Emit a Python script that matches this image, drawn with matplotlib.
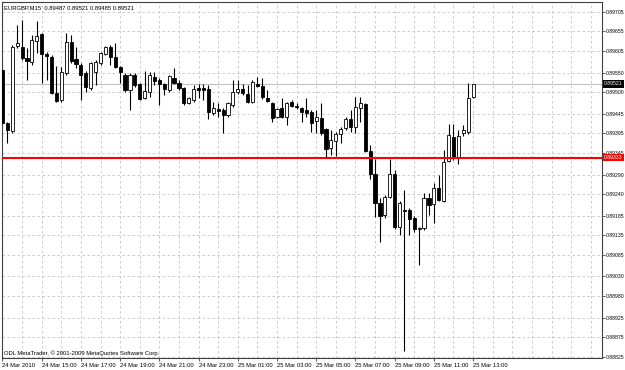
import matplotlib.pyplot as plt
from matplotlib.patches import Rectangle
import numpy as np

plt.rcParams['font.family'] = ['Liberation Sans', 'DejaVu Sans']

# EURGBP M15, 24 Mar 2010 13:00 .. 25 Mar 2010 13:00
opens = [0.89557, 0.89421, 0.89401, 0.89618, 0.89615, 0.89587, 0.89577, 0.89630,
         0.89648, 0.89597, 0.89590, 0.89498, 0.89480, 0.89549, 0.89628, 0.89585,
         0.89569, 0.89549, 0.89511, 0.89551, 0.89574, 0.89597, 0.89615, 0.89590,
         0.89564, 0.89544, 0.89506, 0.89544, 0.89521, 0.89485, 0.89500, 0.89539,
         0.89531, 0.89521, 0.89506, 0.89536, 0.89523, 0.89511, 0.89472, 0.89480,
         0.89511, 0.89511, 0.89508, 0.89447, 0.89457, 0.89455, 0.89442, 0.89467,
         0.89500, 0.89508, 0.89495, 0.89475, 0.89521, 0.89516, 0.89485, 0.89472,
         0.89437, 0.89460, 0.89437, 0.89475, 0.89465, 0.89460, 0.89455, 0.89449,
         0.89426, 0.89434, 0.89406, 0.89358, 0.89375, 0.89393, 0.89409, 0.89432,
         0.89411, 0.89460, 0.89470, 0.89350, 0.89291, 0.89217, 0.89187, 0.89233,
         0.89291, 0.89156, 0.89200, 0.89200, 0.89179, 0.89151, 0.89154, 0.89230,
         0.89215, 0.89256, 0.89222, 0.89324, 0.89386, 0.89332, 0.89396, 0.89398,
         0.89487]
highs = [0.89574, 0.89424, 0.89620, 0.89671, 0.89684, 0.89613, 0.89646, 0.89681,
         0.89651, 0.89602, 0.89595, 0.89567, 0.89564, 0.89651, 0.89646, 0.89615,
         0.89574, 0.89554, 0.89577, 0.89582, 0.89602, 0.89618, 0.89620, 0.89625,
         0.89567, 0.89549, 0.89549, 0.89549, 0.89523, 0.89554, 0.89551, 0.89551,
         0.89536, 0.89523, 0.89544, 0.89562, 0.89531, 0.89513, 0.89488, 0.89518,
         0.89521, 0.89521, 0.89518, 0.89475, 0.89472, 0.89460, 0.89475, 0.89531,
         0.89531, 0.89521, 0.89518, 0.89531, 0.89539, 0.89536, 0.89506, 0.89475,
         0.89460, 0.89485, 0.89475, 0.89480, 0.89472, 0.89462, 0.89485, 0.89455,
         0.89455, 0.89472, 0.89409, 0.89404, 0.89398, 0.89411, 0.89437, 0.89455,
         0.89488, 0.89488, 0.89472, 0.89365, 0.89330, 0.89230, 0.89238, 0.89330,
         0.89302, 0.89222, 0.89251, 0.89205, 0.89184, 0.89156, 0.89243, 0.89243,
         0.89268, 0.89289, 0.89353, 0.89419, 0.89419, 0.89404, 0.89416, 0.89523,
         0.89521]
lows = [0.89414, 0.89370, 0.89396, 0.89613, 0.89582, 0.89531, 0.89569, 0.89600,
        0.89523, 0.89531, 0.89495, 0.89475, 0.89475, 0.89544, 0.89574, 0.89562,
        0.89480, 0.89500, 0.89506, 0.89518, 0.89569, 0.89595, 0.89569, 0.89562,
        0.89523, 0.89500, 0.89455, 0.89513, 0.89480, 0.89483, 0.89488, 0.89518,
        0.89467, 0.89493, 0.89500, 0.89521, 0.89506, 0.89467, 0.89470, 0.89475,
        0.89485, 0.89480, 0.89432, 0.89442, 0.89437, 0.89396, 0.89437, 0.89462,
        0.89495, 0.89493, 0.89472, 0.89472, 0.89513, 0.89483, 0.89475, 0.89424,
        0.89434, 0.89434, 0.89416, 0.89462, 0.89457, 0.89424, 0.89437, 0.89398,
        0.89396, 0.89391, 0.89335, 0.89340, 0.89337, 0.89370, 0.89404, 0.89398,
        0.89396, 0.89424, 0.89347, 0.89279, 0.89182, 0.89118, 0.89179, 0.89230,
        0.89151, 0.89136, 0.88840, 0.89136, 0.89143, 0.89059, 0.89149, 0.89187,
        0.89166, 0.89222, 0.89220, 0.89322, 0.89327, 0.89317, 0.89388, 0.89393,
        0.89485]
closes = [0.89421, 0.89404, 0.89615, 0.89625, 0.89587, 0.89579, 0.89633, 0.89643,
          0.89597, 0.89592, 0.89498, 0.89477, 0.89551, 0.89628, 0.89579, 0.89572,
          0.89544, 0.89513, 0.89574, 0.89577, 0.89600, 0.89615, 0.89590, 0.89564,
          0.89551, 0.89506, 0.89544, 0.89518, 0.89483, 0.89503, 0.89544, 0.89528,
          0.89521, 0.89508, 0.89541, 0.89523, 0.89511, 0.89472, 0.89485, 0.89508,
          0.89506, 0.89506, 0.89449, 0.89460, 0.89452, 0.89442, 0.89472, 0.89500,
          0.89508, 0.89498, 0.89475, 0.89526, 0.89516, 0.89488, 0.89477, 0.89434,
          0.89457, 0.89437, 0.89472, 0.89465, 0.89462, 0.89449, 0.89447, 0.89421,
          0.89437, 0.89396, 0.89355, 0.89378, 0.89393, 0.89406, 0.89432, 0.89411,
          0.89462, 0.89472, 0.89350, 0.89291, 0.89217, 0.89184, 0.89233, 0.89291,
          0.89156, 0.89217, 0.89197, 0.89177, 0.89151, 0.89154, 0.89230, 0.89212,
          0.89256, 0.89225, 0.89322, 0.89391, 0.89332, 0.89388, 0.89404, 0.89485,
          0.89521]

time_labels = ["24 Mar 2010", "24 Mar 15:00", "24 Mar 17:00", "24 Mar 19:00",
               "24 Mar 21:00", "24 Mar 23:00", "25 Mar 01:00", "25 Mar 03:00",
               "25 Mar 05:00", "25 Mar 07:00", "25 Mar 09:00", "25 Mar 11:00",
               "25 Mar 13:00"]
label_bars = [0, 8, 16, 24, 32, 40, 48, 56, 64, 72, 80, 88, 96]

price_ticks = [0.89705, 0.89655, 0.89605, 0.89550, 0.89500, 0.89445, 0.89395,
               0.89345, 0.89290, 0.89240, 0.89185, 0.89135, 0.89085, 0.89030,
               0.88980, 0.88925, 0.88875, 0.88825]
level = 0.89333

fig = plt.figure(figsize=(6.25, 3.7), dpi=100)
ax = fig.add_axes([2 / 625, 12 / 370, 600 / 625, 356 / 370])

grid_kw = dict(color='#c4c4c4', lw=0.6, linestyle=(0, (3, 3)))
for p in price_ticks:
    ax.axhline(p, zorder=0, **grid_kw)
for b in range(4, 124, 4):
    ax.axvline(b, zorder=0, **grid_kw)

# candles
for i, (o, h, l, c) in enumerate(zip(opens, highs, lows, closes)):
    ax.vlines(i, l, h, color='black', lw=0.8, zorder=2)
    bottom = min(o, c)
    height = max(abs(c - o), 0.000008)
    face = 'white' if c >= o else 'black'
    ax.add_patch(Rectangle((i - 0.32, bottom), 0.64, height, facecolor=face,
                           edgecolor='black', lw=0.6, zorder=3))

ax.axhline(closes[-1], color='#c0c0c0', lw=0.8, zorder=1)
ax.axhline(level, color='#ff0000', lw=1.5, zorder=4)

ax.set_xlim(-0.1, 122.3)
ax.set_ylim(0.88822, 0.89730)

ax.yaxis.tick_right()
ax.set_yticks(price_ticks)
ax.set_yticklabels([f"{p:.5f}" for p in price_ticks])
ax.set_xticks(label_bars)
ax.set_xticklabels(time_labels)
for lbl in ax.get_xticklabels():
    lbl.set_ha('left')
ax.tick_params(axis='x', labelsize=4.2, length=2, width=0.6, pad=1.5,
               color='#404040', labelcolor='black')
ax.tick_params(axis='y', labelsize=3.7, length=2, width=0.6, pad=0.8,
               color='#404040', labelcolor='black')

for s in ax.spines.values():
    s.set_color('#404040')
    s.set_linewidth(0.8)

tr = ax.get_yaxis_transform()
ax.text(1.003, closes[-1], f"{closes[-1]:.5f}", transform=tr, ha='left', va='center',
        fontsize=3.7, color='white', clip_on=False, zorder=6,
        bbox=dict(boxstyle='square,pad=0.25', fc='black', ec='none'))
ax.text(1.003, level, f"{level:.5f}", transform=tr, ha='left', va='center',
        fontsize=3.7, color='white', clip_on=False, zorder=6,
        bbox=dict(boxstyle='square,pad=0.25', fc='#ff0000', ec='none'))

ax.text(0.004, 0.992, f"EURGBP,M15  {opens[-1]:.5f} {highs[-1]:.5f} {lows[-1]:.5f} {closes[-1]:.5f}",
        transform=ax.transAxes, ha='left', va='top', fontsize=4.2)
ax.text(0.004, 0.006, "ODL MetaTrader, \u00a9 2001-2009 MetaQuotes Software Corp.",
        transform=ax.transAxes, ha='left', va='bottom', fontsize=4.2)

fig.savefig('out.png', dpi=100, facecolor='white')
